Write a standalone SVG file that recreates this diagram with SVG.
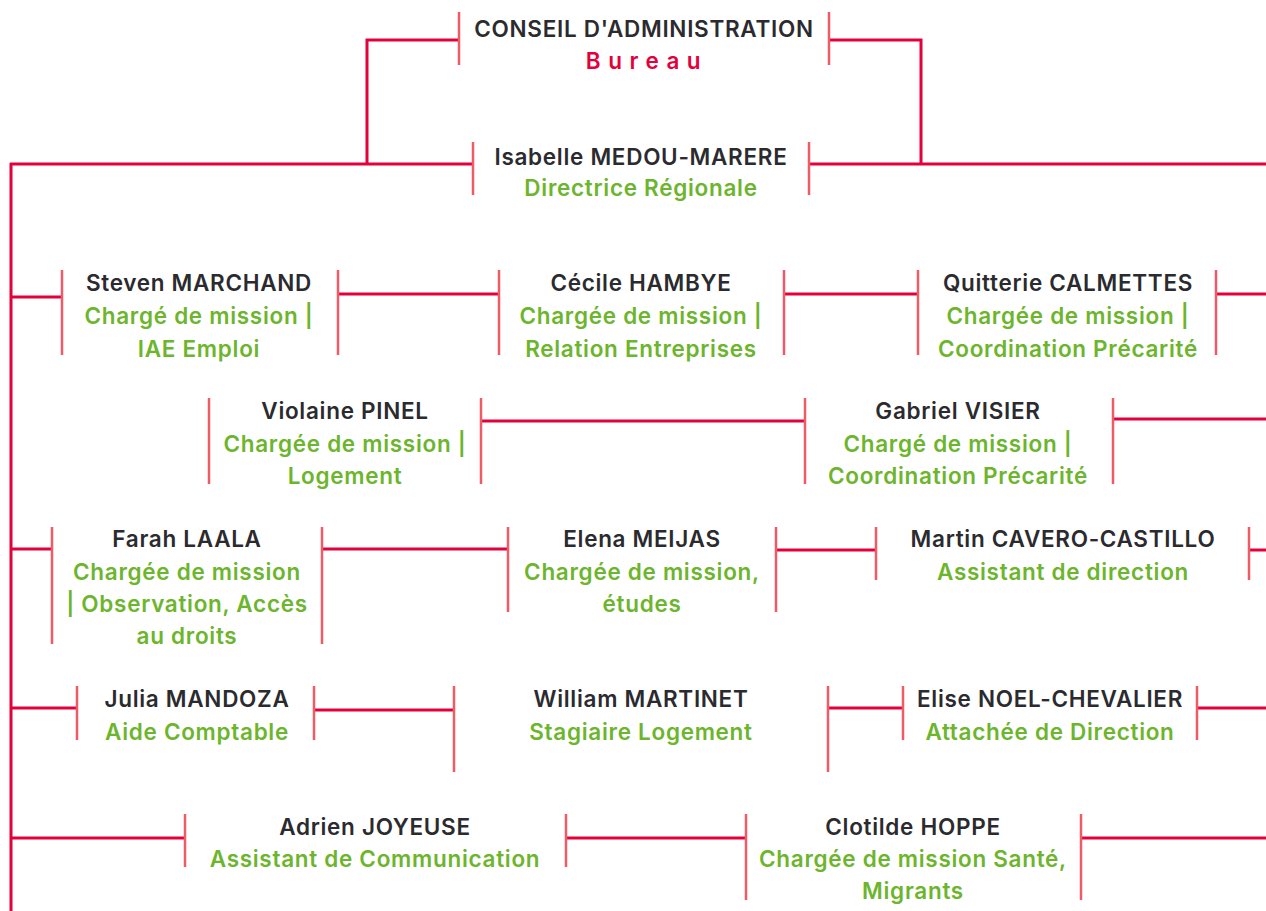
<svg xmlns="http://www.w3.org/2000/svg" width="1266" height="911" viewBox="0 0 1266 911">
<style>
.bg{fill:#ffffff}
.c{fill:none;stroke:#e4003b;stroke-width:3}
.t{fill:none;stroke:#ee5a66;stroke-width:2.5}
text{font-family:Inter,"Liberation Sans",sans-serif;font-size:22.5px;font-weight:600;letter-spacing:0.7px;text-anchor:middle}
.n{fill:#2b2b2f}
.r{fill:#6cb52d}
.b{fill:#e4003b;font-weight:600;letter-spacing:7.5px}
</style>
<rect class="bg" x="0" y="0" width="1266" height="911"/>
<g id="connectors">
<polyline class="c" points="459,40 367,40 367,164"/>
<polyline class="c" points="829,40 921,40 921,164"/>
<line class="c" x1="10" y1="164" x2="473" y2="164"/>
<line class="c" x1="809" y1="164" x2="1266" y2="164"/>
<line class="c" x1="11" y1="163" x2="11" y2="911"/>
<line class="c" x1="11" y1="297" x2="62" y2="297"/>
<line class="c" x1="338" y1="294" x2="499" y2="294"/>
<line class="c" x1="784" y1="294" x2="918" y2="294"/>
<line class="c" x1="1216" y1="294" x2="1266" y2="294"/>
<line class="c" x1="481" y1="421" x2="805" y2="421"/>
<line class="c" x1="1113" y1="419" x2="1266" y2="419"/>
<line class="c" x1="11" y1="549" x2="52" y2="549"/>
<line class="c" x1="322" y1="549" x2="508" y2="549"/>
<line class="c" x1="776" y1="550" x2="876" y2="550"/>
<line class="c" x1="1249" y1="550" x2="1266" y2="550"/>
<line class="c" x1="11" y1="708" x2="77" y2="708"/>
<line class="c" x1="314" y1="710" x2="454" y2="710"/>
<line class="c" x1="828" y1="708" x2="903" y2="708"/>
<line class="c" x1="1197" y1="708" x2="1266" y2="708"/>
<line class="c" x1="11" y1="838" x2="185" y2="838"/>
<line class="c" x1="566" y1="838" x2="746" y2="838"/>
<line class="c" x1="1081" y1="838" x2="1266" y2="838"/>
</g>
<g id="conseil">
<line class="t" x1="459" y1="12" x2="459" y2="65"/><line class="t" x1="829" y1="12" x2="829" y2="65"/>
<text class="n" x="644" y="37">CONSEIL D'ADMINISTRATION</text>
<text class="b" x="647" y="69">Bureau</text>
</g>
<g id="medou">
<line class="t" x1="473" y1="142" x2="473" y2="195"/><line class="t" x1="809" y1="142" x2="809" y2="195"/>
<text class="n" x="641" y="165">Isabelle MEDOU-MARERE</text>
<text class="r" x="641" y="196">Directrice Régionale</text>
</g>
<g id="marchand">
<line class="t" x1="62" y1="270" x2="62" y2="355"/><line class="t" x1="338" y1="270" x2="338" y2="355"/>
<text class="n" x="199" y="291">Steven MARCHAND</text>
<text class="r" x="199" y="324">Chargé de mission |</text>
<text class="r" x="199" y="357">IAE Emploi</text>
</g>
<g id="hambye">
<line class="t" x1="499" y1="270" x2="499" y2="355"/><line class="t" x1="784" y1="270" x2="784" y2="355"/>
<text class="n" x="641" y="291">Cécile HAMBYE</text>
<text class="r" x="641" y="324">Chargée de mission |</text>
<text class="r" x="641" y="357">Relation Entreprises</text>
</g>
<g id="calmettes">
<line class="t" x1="918" y1="270" x2="918" y2="355"/><line class="t" x1="1216" y1="270" x2="1216" y2="355"/>
<text class="n" x="1068" y="291">Quitterie CALMETTES</text>
<text class="r" x="1068" y="324">Chargée de mission |</text>
<text class="r" x="1068" y="357">Coordination Précarité</text>
</g>
<g id="pinel">
<line class="t" x1="209" y1="398" x2="209" y2="484"/><line class="t" x1="481" y1="398" x2="481" y2="484"/>
<text class="n" x="345" y="419">Violaine PINEL</text>
<text class="r" x="345" y="452">Chargée de mission |</text>
<text class="r" x="345" y="484">Logement</text>
</g>
<g id="visier">
<line class="t" x1="805" y1="398" x2="805" y2="484"/><line class="t" x1="1113" y1="398" x2="1113" y2="484"/>
<text class="n" x="958" y="419">Gabriel VISIER</text>
<text class="r" x="958" y="452">Chargé de mission |</text>
<text class="r" x="958" y="484">Coordination Précarité</text>
</g>
<g id="laala">
<line class="t" x1="52" y1="527" x2="52" y2="644"/><line class="t" x1="322" y1="527" x2="322" y2="644"/>
<text class="n" x="187" y="547">Farah LAALA</text>
<text class="r" x="187" y="580">Chargée de mission</text>
<text class="r" x="187" y="612">| Observation, Accès</text>
<text class="r" x="187" y="644">au droits</text>
</g>
<g id="meijas">
<line class="t" x1="508" y1="527" x2="508" y2="612"/><line class="t" x1="776" y1="527" x2="776" y2="612"/>
<text class="n" x="642" y="547">Elena MEIJAS</text>
<text class="r" x="642" y="580">Chargée de mission,</text>
<text class="r" x="642" y="612">études</text>
</g>
<g id="cavero">
<line class="t" x1="876" y1="527" x2="876" y2="580"/><line class="t" x1="1249" y1="527" x2="1249" y2="580"/>
<text class="n" x="1063" y="547">Martin CAVERO-CASTILLO</text>
<text class="r" x="1063" y="580">Assistant de direction</text>
</g>
<g id="mandoza">
<line class="t" x1="77" y1="686" x2="77" y2="740"/><line class="t" x1="314" y1="686" x2="314" y2="740"/>
<text class="n" x="197" y="707">Julia MANDOZA</text>
<text class="r" x="197" y="740">Aide Comptable</text>
</g>
<g id="martinet">
<line class="t" x1="454" y1="686" x2="454" y2="772"/><line class="t" x1="828" y1="686" x2="828" y2="772"/>
<text class="n" x="641" y="707">William MARTINET</text>
<text class="r" x="641" y="740">Stagiaire Logement</text>
</g>
<g id="noel">
<line class="t" x1="903" y1="686" x2="903" y2="740"/><line class="t" x1="1197" y1="686" x2="1197" y2="740"/>
<text class="n" x="1050" y="707">Elise NOEL-CHEVALIER</text>
<text class="r" x="1050" y="740">Attachée de Direction</text>
</g>
<g id="joyeuse">
<line class="t" x1="185" y1="814" x2="185" y2="867"/><line class="t" x1="566" y1="814" x2="566" y2="867"/>
<text class="n" x="375" y="835">Adrien JOYEUSE</text>
<text class="r" x="375" y="867">Assistant de Communication</text>
</g>
<g id="hoppe">
<line class="t" x1="746" y1="814" x2="746" y2="900"/><line class="t" x1="1081" y1="814" x2="1081" y2="900"/>
<text class="n" x="913" y="835">Clotilde HOPPE</text>
<text class="r" x="913" y="867">Chargée de mission Santé,</text>
<text class="r" x="913" y="899">Migrants</text>
</g>
</svg>
